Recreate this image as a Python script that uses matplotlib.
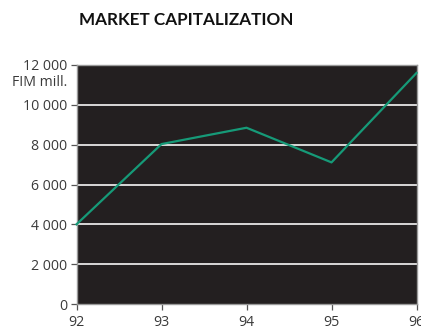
import matplotlib
matplotlib.use("Agg")
import matplotlib.pyplot as plt
from matplotlib.ticker import FuncFormatter

years = [92, 93, 94, 95, 96]
market_cap = [4000, 8030, 8850, 7110, 11600]
y_ticks = [0, 2000, 4000, 6000, 8000, 10000, 12000]
title = "MARKET CAPITALIZATION"
unit = "FIM mill."

plt.rcParams["font.family"] = ["Open Sans", "DejaVu Sans"]

W, H = 421, 328
fig = plt.figure(figsize=(W / 100, H / 100), dpi=100)
fig.patch.set_facecolor("white")

left, right, top, bottom = 76.5, 416.5, 65, 304
ax = fig.add_axes([left / W, 1 - bottom / H, (right - left) / W, (bottom - top) / H])
ax.set_facecolor("#231f20")

ax.set_xlim(92, 96)
ax.set_ylim(0, 12000)
ax.set_xticks(years)
ax.set_yticks(y_ticks)
ax.yaxis.set_major_formatter(FuncFormatter(lambda v, p: f"{int(v):,}".replace(",", " ")))

for v in y_ticks[1:-1]:
    ax.axhline(v, color="#e6e6e6", lw=1.3, zorder=1)

ax.plot(years, market_cap, color="#169a78", lw=1.6, zorder=3, clip_on=False)

for s in ax.spines.values():
    s.set_color("#9a9a9a")
    s.set_linewidth(1.0)

ax.tick_params(axis="both", colors="#555555", labelcolor="#3a3a3a", labelsize=10.2,
               length=4, width=0.9, direction="out")
ax.tick_params(axis="y", pad=2.5)
ax.tick_params(axis="x", pad=4.0)

fig.text(79 / W, 1 - 20 / H, title, fontsize=12.3, fontweight="bold", color="#111111",
         ha="left", va="center", family=["Lato", "DejaVu Sans"])
fig.text(67 / W, 1 - 82 / H, unit, fontsize=10.2, color="#3a3a3a", ha="right", va="center")

fig.savefig("out.png", dpi=100)
